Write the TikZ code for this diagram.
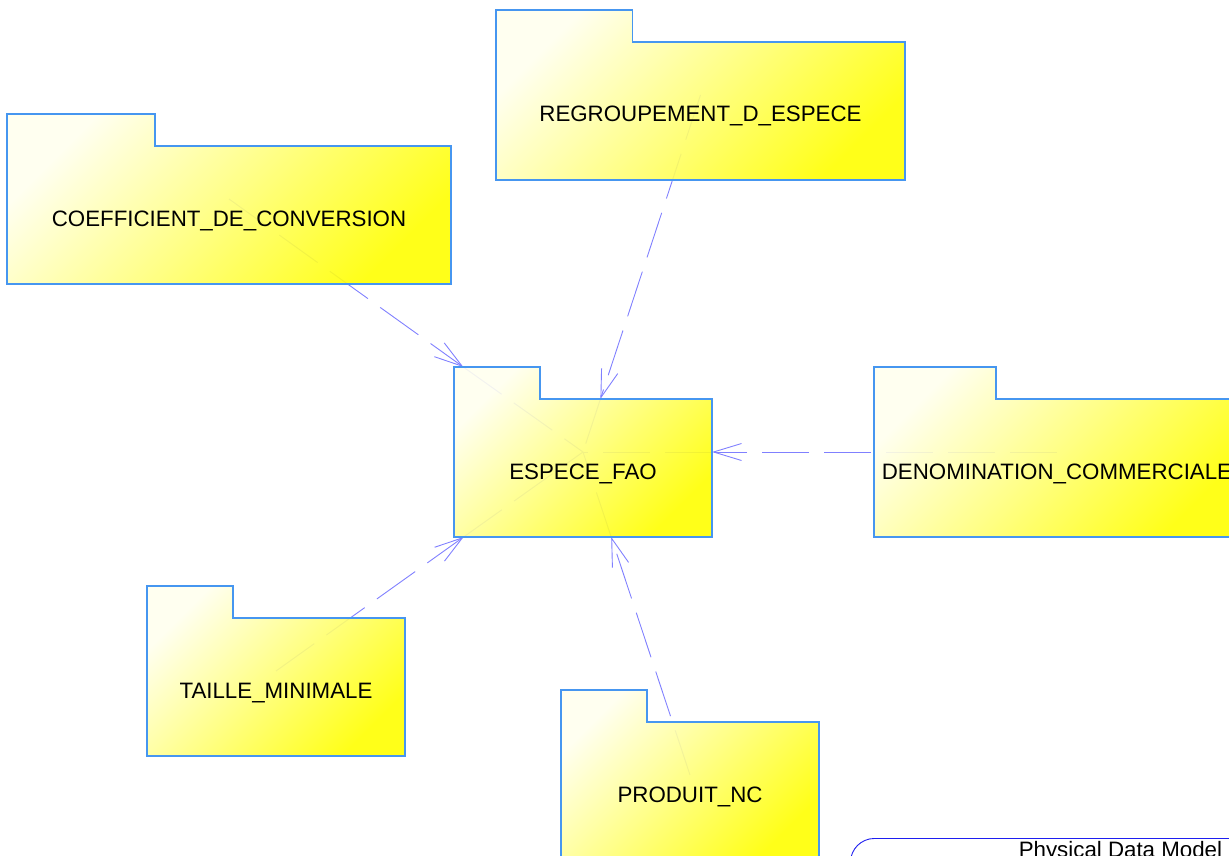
\documentclass[tikz,border=0pt]{standalone}
\usepackage{fontspec}
\setmainfont{Liberation Sans}
\usetikzlibrary{arrows.meta,backgrounds}
\definecolor{folderline}{RGB}{70,150,240}
\definecolor{conncol}{RGB}{128,128,255}
\definecolor{foldertop}{RGB}{255,255,238}
\definecolor{foldermid}{RGB}{255,255,120}
\definecolor{folderbot}{RGB}{255,255,0}
\definecolor{pdmline}{RGB}{30,30,240}
\tikzset{
  folderbody/.style={draw=folderline, line width=1.1pt, top color=foldertop, bottom color=folderbot, middle color=foldermid, shading angle=45, fill opacity=0.9},
  hitbox/.style={rectangle, inner sep=0pt, outer sep=0pt, anchor=north west},
  pkgtext/.style={anchor=base, inner sep=0pt, text=black, font=\fontsize{22.3}{26}\selectfont},
  conn/.style={draw=conncol, line width=0.9pt, dash pattern=on 47pt off 15pt},
  conntip/.style={-{Straight Barb[length=28pt, width=17pt, line width=0.9pt]}},
  pdmbox/.style={rectangle, draw=pdmline, line width=0.9pt, rounded corners=24pt, fill=white, inner sep=0pt, anchor=north west},
}
% name, left, top, width
\newcommand\pkghit[4]{%
  \node[hitbox, minimum width=#4pt, minimum height=170pt] (#1) at (#2,#3) {};}
% left, top, width, name, text
\newcommand\pkgfolder[5]{%
  \shade[folderbody] (#1,#2) -- (#1+#3/3,#2) -- (#1+#3/3,#2+32) -- (#1+#3,#2+32) -- (#1+#3,#2+170) -- (#1,#2+170) -- cycle;
  \node[pkgtext] (#4-t) at (#1+#3/2,#2+112) {#5};}
\begin{document}
\begin{tikzpicture}[x=1pt, y=-1pt]
\path[use as bounding box, clip] (0,0) rectangle (1229,856);
% hit areas of the packages
\pkghit{regroup}{496}{10}{409}
\pkghit{coeff}{7}{114}{444}
\pkghit{espece}{454}{367}{258}
\pkghit{denom}{874}{367}{366}
\pkghit{taille}{147}{586}{258}
\pkghit{produit}{561}{690}{258}
% arrow tips on the ESPECE_FAO outline
\coordinate (tipC) at (463.3,367);
\coordinate (tipR) at (600.4,399);
\coordinate (tipD) at (712,452);
\coordinate (tipT) at (463.6,537);
\coordinate (tipP) at (611.2,537);
\begin{scope}[on background layer]
  \draw[conn, conntip] (coeff.center) -- (tipC);
  \draw[conn] (tipC) -- (espece.center);
  \draw[conn, conntip] (regroup.center) -- (tipR);
  \draw[conn] (tipR) -- (espece.center);
  \draw[conn, conntip] (denom.center) -- (tipD);
  \draw[conn] (tipD) -- (espece.center);
  \draw[conn, conntip] (taille.center) -- (tipT);
  \draw[conn] (tipT) -- (espece.center);
  \draw[conn, conntip] (produit.center) -- (tipP);
  \draw[conn] (tipP) -- (espece.center);
\end{scope}
% folders
\pkgfolder{496}{10}{409}{regroup}{REGROUPEMENT\_D\_ESPECE}
\pkgfolder{7}{114}{444}{coeff}{COEFFICIENT\_DE\_CONVERSION}
\pkgfolder{454}{367}{258}{espece}{ESPECE\_FAO}
\pkgfolder{874}{367}{366}{denom}{DENOMINATION\_COMMERCIALE}
\pkgfolder{147}{586}{258}{taille}{TAILLE\_MINIMALE}
\pkgfolder{561}{690}{258}{produit}{PRODUIT\_NC}
% physical data model frame
\node[pdmbox, minimum width=540pt, minimum height=80pt] (pdm) at (850,838) {};
\node[pkgtext] (pdm-t) at ([yshift=-19pt]pdm.north) {Physical Data Model};
\end{tikzpicture}
\end{document}
